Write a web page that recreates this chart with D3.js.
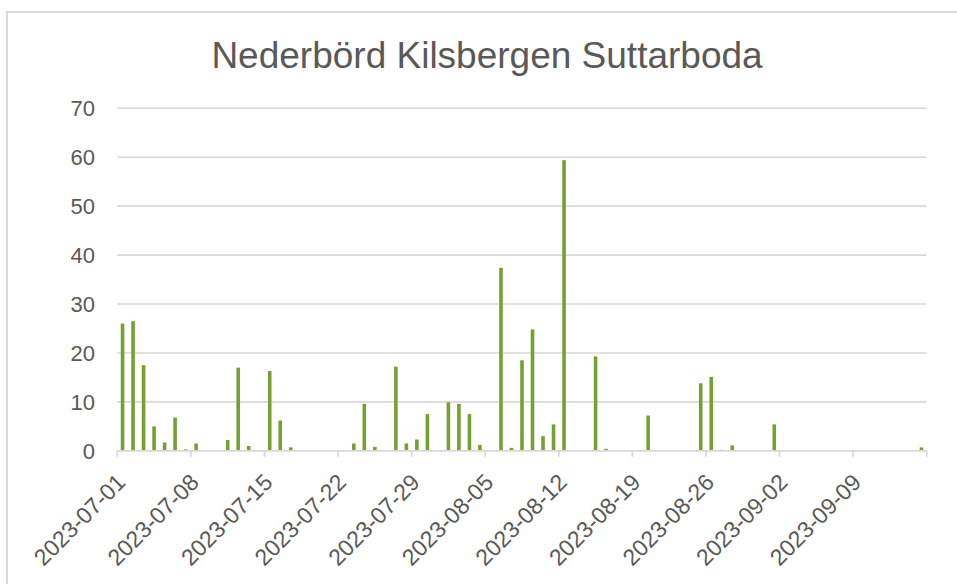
<!DOCTYPE html>
<html>
<head>
<meta charset="utf-8">
<script src="https://cdn.jsdelivr.net/npm/d3@7"></script>
<style>
  html, body { margin: 0; padding: 0; background: #fff; }
  svg { display: block; }
  text { font-family: "Liberation Sans", Arial, sans-serif; fill: #595959; }
</style>
</head>
<body>
<svg id="chart" width="957" height="584"></svg>
<script>
// ---- data ----
const title = "Nederbörd Kilsbergen Suttarboda";
const rainDates = [
  "2023-07-01","2023-07-02","2023-07-03","2023-07-04","2023-07-05","2023-07-06","2023-07-07","2023-07-08",
  "2023-07-11","2023-07-12","2023-07-13","2023-07-15","2023-07-16","2023-07-17",
  "2023-07-23","2023-07-24","2023-07-25","2023-07-27","2023-07-28","2023-07-29","2023-07-30",
  "2023-08-01","2023-08-02","2023-08-03","2023-08-04","2023-08-06","2023-08-07","2023-08-08","2023-08-09",
  "2023-08-10","2023-08-11","2023-08-12","2023-08-15","2023-08-16","2023-08-20",
  "2023-08-25","2023-08-26","2023-08-27","2023-08-28","2023-09-01","2023-09-15"
];
const rainValues = [
  26, 26.5, 17.5, 5, 1.7, 6.8, 0.3, 1.5,
  2.2, 17, 1, 16.3, 6.2, 0.7,
  1.5, 9.6, 0.8, 17.2, 1.5, 2.3, 7.5,
  9.9, 9.6, 7.5, 1.2, 37.4, 0.6, 18.5, 24.8,
  3, 5.4, 59.4, 19.3, 0.4, 7.2,
  13.8, 15.1, 0.2, 1.1, 5.4, 0.7
];
const xStart = "2023-07-01";
const xEnd = "2023-09-16";
const xTickLabels = ["2023-07-01","2023-07-08","2023-07-15","2023-07-22","2023-07-29","2023-08-05",
                     "2023-08-12","2023-08-19","2023-08-26","2023-09-02","2023-09-09"];
const yTicks = [0, 10, 20, 30, 40, 50, 60, 70];

// ---- drawing ----
const parse = d3.utcParse("%Y-%m-%d");
const svg = d3.select("#chart");

// chart border
svg.append("rect")
  .attr("x", 7).attr("y", 12).attr("width", 980).attr("height", 600)
  .attr("fill", "none").attr("stroke", "#d9d9d9").attr("stroke-width", 2);

const plotLeft = 117.3, plotRight = 926.7, plotTop = 108.3, plotBottom = 450.8;

const x = d3.scaleUtc().domain([parse(xStart), parse(xEnd)]).range([plotLeft, plotRight]);
const y = d3.scaleLinear().domain([0, 70]).range([plotBottom, plotTop]);

// title
svg.append("text")
  .attr("x", 487).attr("y", 68)
  .attr("text-anchor", "middle")
  .style("font-size", "37px")
  .text(title);

// gridlines
svg.append("g").selectAll("line").data(yTicks.filter(d => d > 0)).join("line")
  .attr("x1", plotLeft).attr("x2", plotRight)
  .attr("y1", d => y(d)).attr("y2", d => y(d))
  .attr("stroke", "#d9d9d9").attr("stroke-width", 1.6);

// y labels
svg.append("g").selectAll("text").data(yTicks).join("text")
  .attr("x", 95).attr("y", d => y(d))
  .attr("dy", "0.36em")
  .attr("text-anchor", "end")
  .style("font-size", "22px")
  .text(d => d);

// bars
const dayW = x(d3.utcDay.offset(parse(xStart), 1)) - x(parse(xStart));
const barW = 3.6;
svg.append("g").selectAll("rect").data(rainDates.map((d, i) => ({ date: parse(d), v: rainValues[i] }))).join("rect")
  .attr("x", d => x(d.date) + dayW / 2 - barW / 2)
  .attr("width", barW)
  .attr("y", d => y(d.v))
  .attr("height", d => y(0) - y(d.v))
  .attr("fill", "#77a033");

// x axis line + ticks
const xAxisG = svg.append("g");
xAxisG.append("line")
  .attr("x1", plotLeft).attr("x2", plotRight)
  .attr("y1", plotBottom).attr("y2", plotBottom)
  .attr("stroke", "#d9d9d9").attr("stroke-width", 1.8);
const tickDates = xTickLabels.map(parse).concat([parse(xEnd)]);
xAxisG.selectAll("line.tick").data(tickDates).join("line")
  .attr("class", "tick")
  .attr("x1", d => x(d)).attr("x2", d => x(d))
  .attr("y1", plotBottom).attr("y2", plotBottom + 6)
  .attr("stroke", "#d9d9d9").attr("stroke-width", 1.8);
xAxisG.selectAll("text").data(xTickLabels).join("text")
  .attr("transform", d => `translate(${x(parse(d)) + 9.5},${plotBottom + 33}) rotate(-45)`)
  .attr("text-anchor", "end")
  .style("font-size", "23px")
  .text(d => d);
</script>
</body>
</html>
